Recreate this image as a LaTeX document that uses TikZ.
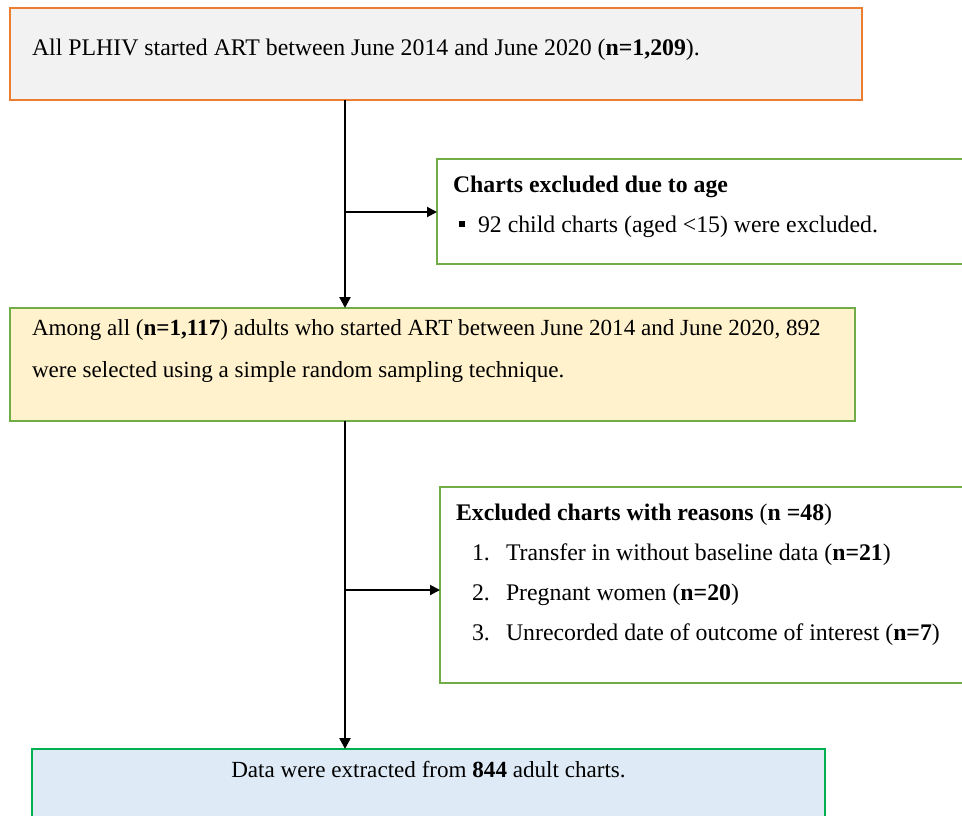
\documentclass[tikz,border=0pt]{standalone}
\usepackage{fontspec}
\setmainfont{Liberation Serif}
\usetikzlibrary{arrows.meta}
\definecolor{orangeb}{HTML}{ED7D31}
\definecolor{grayf}{HTML}{F2F2F2}
\definecolor{greenb}{HTML}{70AD47}
\definecolor{yellowf}{HTML}{FFF2CC}
\definecolor{greenc}{HTML}{00B050}
\definecolor{bluef}{HTML}{DEEBF7}
\begin{document}
\begin{tikzpicture}[x=1pt,y=-1pt,
  font=\fontsize{23.8}{28}\selectfont,
  box/.style={draw, line width=2pt, inner sep=0pt, outer sep=0pt, anchor=north west},
  txt/.style={anchor=base west, inner sep=0pt, outer sep=0pt},
  narrow/.style={font=\fontsize{23.1}{28}\selectfont},
  arr/.style={line width=2.4pt, -{Triangle[length=11pt,width=11pt]}},
  arrh/.style={line width=2pt, -{Triangle[length=10pt,width=10pt]}}
]
\useasboundingbox (0,0) rectangle (962,815);
\clip (0,0) rectangle (962,815);
% boxes
\node[box, draw=orangeb, fill=grayf, minimum width=852pt, minimum height=92pt] (b1) at (10,8) {};
\node[box, draw=greenb, fill=white, minimum width=545pt, minimum height=105pt] (b2) at (437,159) {};
\node[box, draw=greenb, fill=yellowf, minimum width=845pt, minimum height=113pt] (b3) at (10,308) {};
\node[box, draw=greenb, fill=white, minimum width=540pt, minimum height=196pt] (b4) at (440,487) {};
\node[box, draw=greenc, fill=bluef, minimum width=793pt, minimum height=90pt] (b5) at (32,749) {};
% texts
\node[txt] (t1) at (32,55) {All PLHIV started ART between June 2014 and June 2020 (\textbf{n=1,209}).};
\node[txt] (t2a) at (453,192) {\textbf{Charts excluded due to age}};
\node[txt] (t2b) at (459,232) {\rule[5pt]{6pt}{6pt}\hspace{13pt}92 child charts (aged <15) were excluded.};
\node[txt, narrow] (t3a) at (32,335) {Among all (\textbf{n=1,117}) adults who started ART between June 2014 and June 2020, 892};
\node[txt, narrow] (t3b) at (32,377) {were selected using a simple random sampling technique.};
\node[txt] (t4a) at (456,520) {\textbf{Excluded charts with reasons} (\textbf{n =48})};
\node[txt] (t4b) at (472,560) {1.};
\node[txt] (t4bb) at (506,560) {Transfer in without baseline data (\textbf{n=21})};
\node[txt] (t4c) at (472,600) {2.};
\node[txt] (t4cc) at (506,600) {Pregnant women (\textbf{n=20})};
\node[txt] (t4d) at (472,640) {3.};
\node[txt] (t4dd) at (506,640) {Unrecorded date of outcome of interest (\textbf{n=7})};
\node[anchor=base, inner sep=0pt, narrow] (t5) at (b5.north |- 0,777) {Data were extracted from \textbf{844} adult charts.};
% connectors
\coordinate (vx) at (345,0);
\coordinate (j1) at (345,212);
\coordinate (j2) at (345,590);
\draw[arr] (b1.south -| vx) -- (b3.north -| vx);
\draw[arrh] (j1) -- (b2.west |- j1);
\draw[arr] (b3.south -| vx) -- (b5.north -| vx);
\draw[arrh] (j2) -- (b4.west |- j2);
\end{tikzpicture}
\end{document}
